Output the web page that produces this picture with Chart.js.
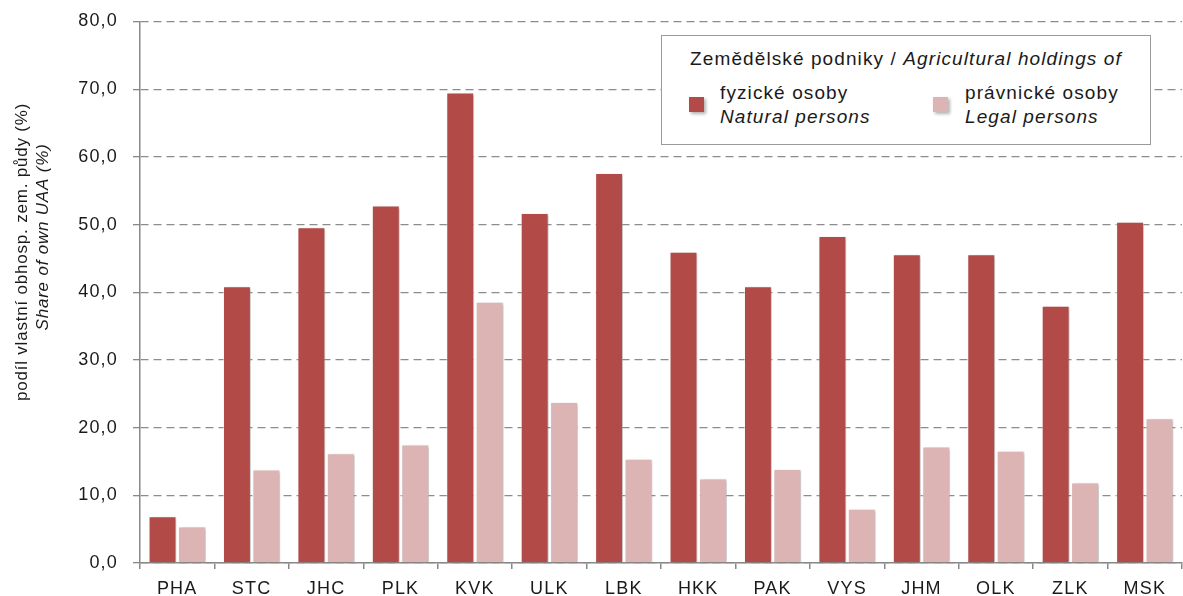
<!DOCTYPE html>
<html>
<head>
<meta charset="utf-8">
<script src="https://cdn.jsdelivr.net/npm/chart.js@4"></script>
<style>
  body { margin: 0; background: #fff; }
  #wrap { position: relative; width: 1183px; height: 596px; font-family: "Liberation Sans", Arial, sans-serif; }
  #legend { position: absolute; left: 661px; top: 35px; width: 488px; height: 108px; background: #fff; border: 1.5px solid #9a9a9a; color: #1a1a1a; font-size: 19px; letter-spacing: 1.1px; }
  #legend .title { position: absolute; left: 0; right: 0; top: 11px; line-height: 24px; text-align: center; }
  #legend .box { position: absolute; width: 15px; height: 15px; box-shadow: 2px 2px 3px rgba(0,0,0,0.3); }
  #legend .txt { position: absolute; white-space: nowrap; }
</style>
</head>
<body>
<div id="wrap">
  <canvas id="graf" width="1183" height="596"></canvas>
  <div id="legend"></div>
</div>
<script>
var kraje = ["PHA", "STC", "JHC", "PLK", "KVK", "ULK", "LBK", "HKK", "PAK", "VYS", "JHM", "OLK", "ZLK", "MSK"];
var fyzicke = [6.9, 40.9, 49.6, 52.8, 69.5, 51.7, 57.6, 46.0, 40.9, 48.3, 45.6, 45.6, 38.0, 50.4];
var pravnicke = [5.4, 13.8, 16.2, 17.5, 38.6, 23.8, 15.4, 12.5, 13.9, 8.0, 17.2, 16.6, 11.9, 21.4];
var yTicks = [0, 10, 20, 30, 40, 50, 60, 70, 80];
var nazvyCz = ["fyzické osoby", "právnické osoby"];
var nazvyEn = ["Natural persons", "Legal persons"];
var barvy = ["#b24a48", "#ddb4b4"];
var legendaTitul = ["Zemědělské podniky / ", "Agricultural holdings of"];
var osaTitul = ["podíl vlastní obhosp. zem. půdy (%)", "Share of own UAA (%)"];

var pismo = '"Liberation Sans", Arial, sans-serif';

// legenda v html (kvuli kurzive na druhem radku)
var leg = document.getElementById("legend");
leg.innerHTML = '<div class="title">' + legendaTitul[0] + '<i>' + legendaTitul[1] + '</i></div>';
var legPos = [{ box: 27, txt: 58 }, { box: 271, txt: 303 }];
for (var i = 0; i < nazvyCz.length; i++) {
  leg.innerHTML +=
    '<div class="box" style="left:' + legPos[i].box + 'px;top:61px;background:' + barvy[i] + '"></div>' +
    '<div class="txt" style="left:' + legPos[i].txt + 'px;top:45px;line-height:24px">' + nazvyCz[i] + '<br><i>' + nazvyEn[i] + '</i></div>';
}

var stylText = {
  id: "stylText",
  beforeUpdate: function (chart) { chart.ctx.letterSpacing = "1.2px"; },
  beforeDraw: function (chart) { chart.ctx.letterSpacing = "1.2px"; }
};

var stin = {
  id: "stin",
  beforeDatasetsDraw: function (chart) {
    var ctx = chart.ctx;
    ctx.save();
    ctx.shadowColor = "rgba(0,0,0,0.28)";
    ctx.shadowBlur = 3;
    ctx.shadowOffsetX = 2;
    ctx.shadowOffsetY = 1;
  },
  afterDatasetsDraw: function (chart) { chart.ctx.restore(); }
};

var titulOsy = {
  id: "titulOsy",
  afterDraw: function (chart) {
    var ctx = chart.ctx;
    ctx.save();
    ctx.fillStyle = "#1a1a1a";
    ctx.textAlign = "center";
    ctx.textBaseline = "middle";
    ctx.letterSpacing = "0.8px";
    ctx.translate(22, 252);
    ctx.rotate(-Math.PI / 2);
    ctx.font = "17px " + pismo;
    ctx.fillText(osaTitul[0], 0, 0);
    ctx.restore();
    ctx.save();
    ctx.fillStyle = "#1a1a1a";
    ctx.textAlign = "center";
    ctx.textBaseline = "middle";
    ctx.letterSpacing = "0.8px";
    ctx.translate(43, 237);
    ctx.rotate(-Math.PI / 2);
    ctx.font = "italic 17px " + pismo;
    ctx.fillText(osaTitul[1], 0, 0);
    ctx.restore();
  }
};

Chart.defaults.font.family = pismo;
Chart.defaults.font.size = 18;
Chart.defaults.color = "#1a1a1a";

var graf = new Chart(document.getElementById("graf"), {
  type: "bar",
  data: {
    labels: kraje,
    datasets: [
      {
        label: nazvyCz[0],
        data: fyzicke,
        backgroundColor: barvy[0],
        borderColor: "rgba(255,255,255,0.5)",
        borderWidth: 1,
        categoryPercentage: 0.79,
        barPercentage: 0.95
      },
      {
        label: nazvyCz[1],
        data: pravnicke,
        backgroundColor: barvy[1],
        borderColor: "rgba(255,255,255,0.6)",
        borderWidth: 1,
        categoryPercentage: 0.79,
        barPercentage: 0.95
      }
    ]
  },
  options: {
    responsive: false,
    animation: false,
    layout: { padding: { top: 21.5, right: 1, left: 0, bottom: 0 } },
    plugins: {
      legend: { display: false },
      tooltip: { enabled: false }
    },
    scales: {
      x: {
        afterFit: function (s) { s.height = 33; s.paddingLeft = 0; s.paddingRight = 0; },
        grid: {
          offset: true,
          drawOnChartArea: false,
          drawTicks: true,
          tickLength: 6,
          color: "#888",
          lineWidth: 1.5
        },
        border: { color: "#888", width: 1.5 },
        ticks: { padding: 9, maxRotation: 0 }
      },
      y: {
        min: 0,
        max: 80,
        afterFit: function (s) { s.width = 140; s.paddingTop = 0; s.paddingBottom = 0; },
        afterBuildTicks: function (s) { s.ticks = yTicks.map(function (v) { return { value: v }; }); },
        grid: {
          color: "#8c8c8c",
          lineWidth: 1.3,
          tickLength: 7,
          tickColor: "#888"
        },
        border: { color: "#888", width: 1.5, dash: [8, 5] },
        ticks: {
          padding: 15,
          callback: function (v) { return v.toFixed(1).replace(".", ","); }
        }
      }
    }
  },
  plugins: [stylText, stin, titulOsy]
});
</script>
</body>
</html>
